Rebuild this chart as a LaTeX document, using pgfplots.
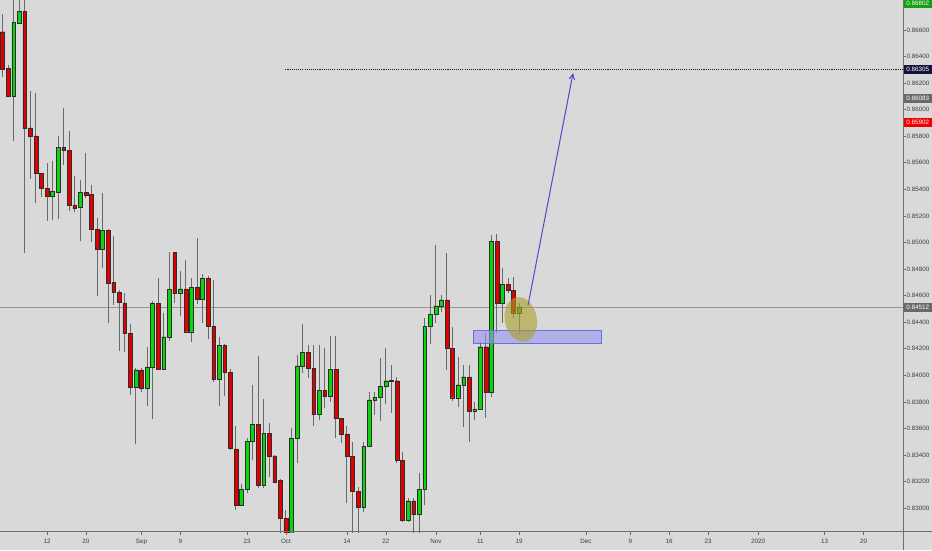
\documentclass[border=0pt]{standalone}
\usepackage{fontspec}
\setmainfont{Liberation Sans}
\usepackage{pgfplots}
\pgfplotsset{compat=1.18}
\usepackage{pgfplotstable}
\usetikzlibrary{arrows.meta}

\definecolor{bg}{RGB}{217,217,217}
\definecolor{cgreen}{RGB}{10,215,10}
\definecolor{cred}{RGB}{225,0,0}
\definecolor{wick}{RGB}{105,105,105}
\definecolor{border}{RGB}{45,45,45}
\definecolor{txt}{RGB}{60,60,60}
\definecolor{axisc}{RGB}{110,110,110}
\definecolor{arrowblue}{RGB}{75,75,205}
\definecolor{zonefill}{RGB}{150,150,240}
\definecolor{zonedraw}{RGB}{110,110,225}
\definecolor{ellfill}{RGB}{170,160,40}
\definecolor{navy}{RGB}{20,20,60}
\definecolor{boxgray}{RGB}{105,105,105}
\definecolor{boxgreen}{RGB}{20,160,20}
\definecolor{boxred}{RGB}{240,0,0}
\definecolor{pricegray}{RGB}{150,150,150}

\pgfplotstableread{
i o h l c
0 0.86587 0.86721 0.86244 0.86306
1 0.86312 0.86337 0.86096 0.86103
2 0.86103 0.86950 0.85766 0.86655
3 0.86651 0.86950 0.86645 0.86738
4 0.86738 0.86950 0.84918 0.85864
5 0.85864 0.86143 0.85478 0.85797
6 0.85802 0.86123 0.85300 0.85518
7 0.85521 0.85523 0.85340 0.85408
8 0.85408 0.85596 0.85164 0.85345
9 0.85345 0.85614 0.85169 0.85385
10 0.85382 0.85802 0.85174 0.85714
11 0.85714 0.86013 0.85583 0.85691
12 0.85694 0.85839 0.85235 0.85282
13 0.85284 0.85501 0.85229 0.85260
14 0.85262 0.85468 0.85009 0.85375
15 0.85375 0.85674 0.85337 0.85355
16 0.85360 0.85433 0.85001 0.85099
17 0.85099 0.85184 0.84597 0.84951
18 0.84951 0.85375 0.84810 0.85094
19 0.85094 0.85100 0.84396 0.84692
20 0.84697 0.85049 0.84529 0.84625
21 0.84623 0.84642 0.84183 0.84548
22 0.84546 0.84617 0.84177 0.84316
23 0.84316 0.84384 0.83851 0.83909
24 0.83909 0.84052 0.83480 0.84040
25 0.84040 0.84055 0.83876 0.83902
26 0.83902 0.84215 0.83771 0.84064
27 0.84060 0.84561 0.83668 0.84542
28 0.84542 0.84730 0.84040 0.84049
29 0.84049 0.84467 0.84045 0.84290
30 0.84290 0.84930 0.84260 0.84647
31 0.84923 0.84930 0.84542 0.84617
32 0.84617 0.84787 0.84446 0.84650
33 0.84650 0.84868 0.84320 0.84328
34 0.84328 0.84730 0.84253 0.84662
35 0.84662 0.85031 0.84537 0.84574
36 0.84574 0.84760 0.84391 0.84730
37 0.84730 0.84745 0.84271 0.84371
38 0.84371 0.84717 0.83951 0.83970
39 0.83970 0.84290 0.83768 0.84228
40 0.84228 0.84235 0.83844 0.84022
41 0.84022 0.84045 0.83437 0.83450
42 0.83445 0.83618 0.82985 0.83021
43 0.83021 0.83179 0.83018 0.83141
44 0.83141 0.83525 0.83111 0.83503
45 0.83503 0.83927 0.83362 0.83631
46 0.83631 0.84147 0.83149 0.83174
47 0.83174 0.83819 0.83149 0.83563
48 0.83563 0.83638 0.83236 0.83394
49 0.83394 0.83400 0.83186 0.83198
50 0.83211 0.83216 0.82759 0.82920
51 0.82920 0.82985 0.82722 0.82789
52 0.82789 0.83600 0.82722 0.83525
53 0.83525 0.84152 0.83337 0.84070
54 0.84070 0.84386 0.84015 0.84175
55 0.84175 0.84228 0.83977 0.84052
56 0.84052 0.84228 0.83618 0.83706
57 0.83706 0.84228 0.83663 0.83889
58 0.83889 0.84203 0.83751 0.83842
59 0.83842 0.84296 0.83801 0.84047
60 0.84047 0.84296 0.83525 0.83676
61 0.83676 0.83680 0.83492 0.83558
62 0.83558 0.83618 0.83036 0.83387
63 0.83387 0.83500 0.82722 0.83126
64 0.83126 0.83161 0.82722 0.83010
65 0.83010 0.83500 0.82972 0.83467
66 0.83467 0.83876 0.83460 0.83814
67 0.83814 0.83876 0.83701 0.83834
68 0.83834 0.84128 0.83658 0.83919
69 0.83919 0.84203 0.83784 0.83959
70 0.83959 0.84077 0.83718 0.83961
71 0.83959 0.83989 0.83337 0.83362
72 0.83362 0.83424 0.82897 0.82910
73 0.82910 0.83076 0.82897 0.83055
74 0.83055 0.83076 0.82722 0.82953
75 0.82953 0.83262 0.82722 0.83141
76 0.83141 0.84429 0.83023 0.84366
77 0.84366 0.84604 0.84235 0.84459
78 0.84459 0.84981 0.84391 0.84522
79 0.84522 0.84604 0.84479 0.84567
80 0.84567 0.84923 0.84040 0.84203
81 0.84203 0.84366 0.83808 0.83831
82 0.83831 0.84140 0.83763 0.83927
83 0.83927 0.84077 0.83608 0.83989
84 0.83989 0.84077 0.83500 0.83726
85 0.83726 0.83801 0.83663 0.83746
86 0.83744 0.84253 0.83744 0.84215
87 0.84215 0.84316 0.83676 0.83876
88 0.83876 0.85056 0.83838 0.85006
89 0.85006 0.85064 0.84316 0.84546
90 0.84546 0.84805 0.84396 0.84685
91 0.84685 0.84730 0.84617 0.84642
92 0.84642 0.84738 0.84429 0.84471
93 0.84471 0.84546 0.84303 0.84512
}\candles

\begin{document}
\begin{tikzpicture}
\useasboundingbox (0,-13.5pt) rectangle (699pt,399pt);
\fill[bg] (0,-13.5pt) rectangle (699pt,399pt);
\begin{axis}[
  at={(0,0)}, anchor=south west, scale only axis,
  width=677.25pt, height=399pt,
  xmin=-0.47, xmax=162.1, ymin=0.82820, ymax=0.86826,
  axis x line*=bottom, axis y line*=right,
  axis line style={draw=none},
  clip mode=individual,
  tick align=outside, major tick length=2pt,
  tick style={draw=axisc, line width=0.5pt},
  xtick={8,15,25,32,44,51,62,69,78,86,93,105,113,120,127,136,148,155},
  xticklabels={12,20,Sep,9,23,Oct,14,22,Nov,11,19,Dec,9,16,23,2020,13,20},
  ytick={0.830,0.832,0.834,0.836,0.838,0.840,0.842,0.844,0.846,0.848,0.850,0.852,0.854,0.856,0.858,0.860,0.862,0.864,0.866},
  yticklabels={0.83000,0.83200,0.83400,0.83600,0.83800,0.84000,0.84200,0.84400,0.84600,0.84800,0.85000,0.85200,0.85400,0.85600,0.85800,0.86000,0.86200,0.86400,0.86600},
  xticklabel style={font=\fontsize{4.7}{5.5}\selectfont, text=txt, yshift=-2.3pt, inner sep=1pt},
  yticklabel style={font=\fontsize{4.7}{5.5}\selectfont, text=txt, inner sep=0.6pt},
  scaled y ticks=false,
]
% current price line
\addplot[forget plot, pricegray, line width=0.6pt] coordinates {(-1,0.84512) (163,0.84512)};
% target dotted line
\addplot[forget plot, navy, line width=0.9pt, dash pattern=on 0.8pt off 0.8pt] coordinates {(50.9,0.86305) (163,0.86305)};
% wicks
\addplot[forget plot, draw=none, mark=none,
  error bars/.cd, y dir=plus, y explicit, error mark=none,
  error bar style={draw=wick, line width=0.75pt}]
  table[x=i, y=l, y error expr=\thisrow{h}-\thisrow{l}] {\candles};
% bodies (stacked floating bars)
\addplot[forget plot, ybar, stack plots=y, bar width=2.85pt, bar shift=0pt, draw=none, fill=none]
  table[x=i, y expr={min(\thisrow{o},\thisrow{c})}] {\candles};
\addplot[forget plot, ybar, stack plots=y, bar width=2.85pt, bar shift=0pt, fill=cgreen, draw=border, line width=0.35pt]
  table[x=i, y expr={max(\thisrow{c}-\thisrow{o},0)}] {\candles};
\addplot[forget plot, ybar, stack plots=y, bar width=2.85pt, bar shift=0pt, fill=cred, draw=border, line width=0.35pt]
  table[x=i, y expr={max(\thisrow{o}-\thisrow{c},0)}] {\candles};
% support zone
\addplot[forget plot, fill=zonefill, fill opacity=0.6, draw=zonedraw, line width=0.5pt]
  coordinates {(84.76,0.84241) (107.7,0.84241) (107.7,0.84341) (84.76,0.84341)} -- cycle;
% ellipse highlight
\fill[ellfill, fill opacity=0.6] (axis cs:93.3,0.84421) circle [x radius=12pt, y radius=16.9pt, rotate=11];
% arrow
\addplot[forget plot, arrowblue, line width=0.75pt, -{Straight Barb[length=4pt, width=4pt]}]
  coordinates {(94.6,0.84529) (102.7,0.86276)};
% price boxes
\tikzset{pbox/.style={text=white, font=\fontsize{4.7}{5.5}\selectfont, anchor=west, minimum width=21.75pt, minimum height=6.5pt, inner sep=0pt}}
\node[pbox, fill=boxgreen] at (axis cs:162.1,0.86802) {0.86802};
\node[pbox, fill=navy] at (axis cs:162.1,0.86305) {0.86305};
\node[pbox, fill=boxgray] at (axis cs:162.1,0.86083) {0.86083};
\node[pbox, fill=boxred] at (axis cs:162.1,0.85902) {0.85902};
\node[pbox, fill=boxgray] at (axis cs:162.1,0.84512) {0.84512};
\end{axis}
\draw[axisc, line width=0.75pt] (0,0) -- (699pt,0);
\draw[axisc, line width=0.75pt] (677.25pt,-13.5pt) -- (677.25pt,399pt);
\end{tikzpicture}
\end{document}
